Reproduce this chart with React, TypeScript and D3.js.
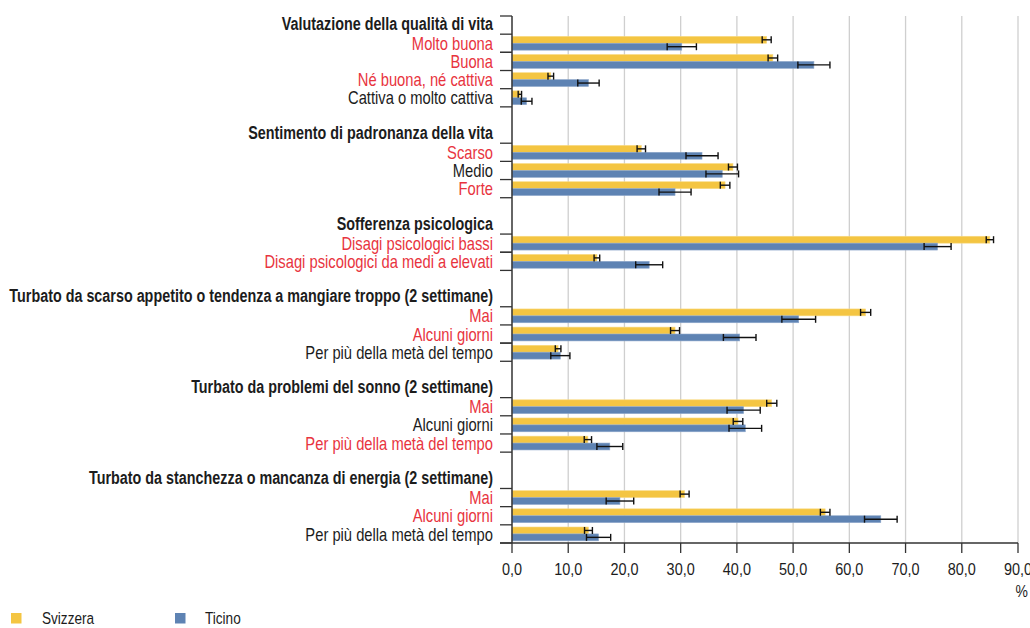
import React from "react";
import * as d3 from "d3";

// Rows of the chart, top to bottom: section headings, categories and blank spacers.
const rowLabels: string[] = [
  "Valutazione della qualità di vita",
  "Molto buona",
  "Buona",
  "Né buona, né cattiva",
  "Cattiva o molto cattiva",
  "",
  "Sentimento di padronanza della vita",
  "Scarso",
  "Medio",
  "Forte",
  "",
  "Sofferenza psicologica",
  "Disagi psicologici bassi",
  "Disagi psicologici da medi a elevati",
  "",
  "Turbato da scarso appetito o tendenza a mangiare troppo (2 settimane)",
  "Mai",
  "Alcuni giorni",
  "Per più della metà del tempo",
  "",
  "Turbato da problemi del sonno (2 settimane)",
  "Mai",
  "Alcuni giorni",
  "Per più della metà del tempo",
  "",
  "Turbato da stanchezza o mancanza di energia (2 settimane)",
  "Mai",
  "Alcuni giorni",
  "Per più della metà del tempo",
];

// Row kind: "h" heading, "c" category, "" spacer
const rowKinds: string[] = [
  "h", "c", "c", "c", "c", "",
  "h", "c", "c", "c", "",
  "h", "c", "c", "",
  "h", "c", "c", "c", "",
  "h", "c", "c", "c", "",
  "h", "c", "c", "c",
];

// Categories whose difference is significant are printed in red
const highlighted: boolean[] = [
  false, true, true, true, false, false,
  false, true, false, true, false,
  false, true, true, false,
  false, true, true, false, false,
  false, true, false, true, false,
  false, true, true, false,
];

// Percentages (null for headings and spacers)
const svizzera: (number | null)[] = [
  null, 45.3, 46.4, 6.9, 1.4, null,
  null, 23.0, 39.3, 37.9, null,
  null, 85.0, 15.1, null,
  null, 62.9, 29.0, 8.2, null,
  null, 46.2, 40.2, 13.5, null,
  null, 30.7, 55.7, 13.6,
];
const svizzeraErr: (number | null)[] = [
  null, 0.8, 0.85, 0.5, 0.3, null,
  null, 0.75, 0.8, 0.85, null,
  null, 0.65, 0.5, null,
  null, 0.9, 0.8, 0.5, null,
  null, 0.9, 0.85, 0.65, null,
  null, 0.8, 0.85, 0.7,
];
const ticino: (number | null)[] = [
  null, 30.2, 53.7, 13.6, 2.6, null,
  null, 33.8, 37.4, 29.0, null,
  null, 75.7, 24.4, null,
  null, 51.0, 40.5, 8.6, null,
  null, 41.2, 41.5, 17.4, null,
  null, 19.2, 65.6, 15.4,
];
const ticinoErr: (number | null)[] = [
  null, 2.6, 2.85, 1.9, 0.95, null,
  null, 2.85, 2.9, 2.85, null,
  null, 2.4, 2.4, null,
  null, 3.0, 2.9, 1.7, null,
  null, 2.95, 2.9, 2.3, null,
  null, 2.45, 2.9, 2.15,
];

const xTicks: number[] = [0, 10, 20, 30, 40, 50, 60, 70, 80, 90];
const seriesNames: string[] = ["Svizzera", "Ticino"];

const W = 1030;
const H = 628;
const FONT = '"Liberation Sans", Arial, sans-serif';
const NARROW = 0.82; // horizontal squeeze giving a condensed face
const YELLOW = "#F4C542";
const BLUE = "#5E83B3";
const RED = "#E8343E";
const INK = "#1c1c1c";
const fmt = (v: number) => v.toFixed(1).replace(".", ",");

type NTextProps = {
  x: number;
  y: number;
  anchor?: "start" | "middle" | "end";
  size: number;
  bold?: boolean;
  fill?: string;
  squeeze?: number;
  children: React.ReactNode;
};

// Text drawn with a condensed width
function NText({ x, y, anchor = "start", size, bold, fill = INK, squeeze = NARROW, children }: NTextProps) {
  return (
    <g transform={`translate(${x},${y}) scale(${squeeze},1)`}>
      <text x={0} y={0} textAnchor={anchor} fontSize={size} fontWeight={bold ? "bold" : "normal"} fill={fill}>
        {children}
      </text>
    </g>
  );
}

export default function App() {
  const x = d3.scaleLinear().domain([0, 90]).range([512, 1018]);
  const y = d3
    .scaleBand<number>()
    .domain(rowLabels.map((_, i) => i))
    .range([16, 543])
    .padding(0);
  const bw = y.bandwidth();
  const barH = 6.9;
  const top = 16;
  const bottom = 543;

  // tick marks sit on the boundaries of category rows
  const tickYs = new Set<number>();
  tickYs.add(top);
  rowKinds.forEach((k, i) => {
    if (k === "c") {
      tickYs.add(y(i)!);
      tickYs.add(y(i)! + bw);
    }
  });

  const errBar = (v: number, e: number, cy: number, key: string) => (
    <g key={key} stroke="#111" strokeWidth={1.4}>
      <line x1={x(v - e)} x2={x(v + e)} y1={cy} y2={cy} />
      <line x1={x(v - e)} x2={x(v - e)} y1={cy - 3.5} y2={cy + 3.5} />
      <line x1={x(v + e)} x2={x(v + e)} y1={cy - 3.5} y2={cy + 3.5} />
    </g>
  );

  return (
    <svg
      width={W}
      height={H}
      style={{ position: "absolute", left: 0, top: 0, background: "#fff" }}
      fontFamily={FONT}
    >
      {/* vertical gridlines */}
      {xTicks.slice(1).map((t) => (
        <line key={"g" + t} x1={x(t)} x2={x(t)} y1={top} y2={bottom} stroke="#cfcfcf" strokeWidth={1.3} />
      ))}

      {/* bars */}
      {rowLabels.map((_, i) => {
        const s = svizzera[i];
        const t = ticino[i];
        if (s === null || t === null) return null;
        const y0 = y(i)! + bw / 2 - barH;
        return (
          <g key={"b" + i}>
            <rect x={x(0)} y={y0} width={x(s) - x(0)} height={barH} fill={YELLOW} stroke="#F8DA84" strokeWidth={0.6} />
            <rect x={x(0)} y={y0 + barH} width={x(t) - x(0)} height={barH} fill={BLUE} stroke="#8FA8CB" strokeWidth={0.6} />
          </g>
        );
      })}

      {/* confidence intervals */}
      {rowLabels.map((_, i) => {
        const s = svizzera[i];
        const t = ticino[i];
        if (s === null || t === null) return null;
        const y0 = y(i)! + bw / 2 - barH;
        return (
          <g key={"e" + i}>
            {errBar(s, svizzeraErr[i]!, y0 + barH / 2, "es" + i)}
            {errBar(t, ticinoErr[i]!, y0 + barH * 1.5, "et" + i)}
          </g>
        );
      })}

      {/* y axis */}
      <line x1={x(0)} x2={x(0)} y1={top} y2={bottom} stroke="#333" strokeWidth={1.5} />
      {[...tickYs].map((ty) => (
        <line key={"yt" + ty} x1={x(0) - 12} x2={x(0)} y1={ty} y2={ty} stroke="#333" strokeWidth={1.3} />
      ))}
      <line x1={x(0) - 12} x2={x(90)} y1={bottom} y2={bottom} stroke="#333" strokeWidth={1.5} />

      {/* x axis ticks and labels */}
      {xTicks.map((t) => (
        <g key={"xt" + t}>
          <line x1={x(t)} x2={x(t)} y1={bottom} y2={bottom + 10} stroke="#333" strokeWidth={1.3} />
          <NText x={x(t)} y={bottom + 32} anchor="middle" size={17} squeeze={0.85}>
            {fmt(t)}
          </NText>
        </g>
      ))}
      <NText x={1028} y={597} anchor="end" size={17}>
        %
      </NText>

      {/* row labels */}
      {rowLabels.map((lab, i) => {
        if (!lab) return null;
        const isHead = rowKinds[i] === "h";
        const cy = y(i)! + bw / 2;
        return (
          <NText
            key={"l" + i}
            x={493}
            y={isHead ? cy + 4.8 : cy + 6.6}
            anchor="end"
            size={isHead ? 17.5 : 18}
            bold={isHead}
            squeeze={NARROW}
            fill={highlighted[i] ? RED : INK}
          >
            {lab}
          </NText>
        );
      })}

      {/* legend */}
      {seriesNames.map((n, k) => (
        <g key={"lg" + n} transform={`translate(${k === 0 ? 11 : 175},613)`}>
          <rect width={10.5} height={10.5} fill={k === 0 ? YELLOW : BLUE} />
          <NText x={k === 0 ? 31 : 30} y={11} size={17} squeeze={0.8}>
            {n}
          </NText>
        </g>
      ))}
    </svg>
  );
}
